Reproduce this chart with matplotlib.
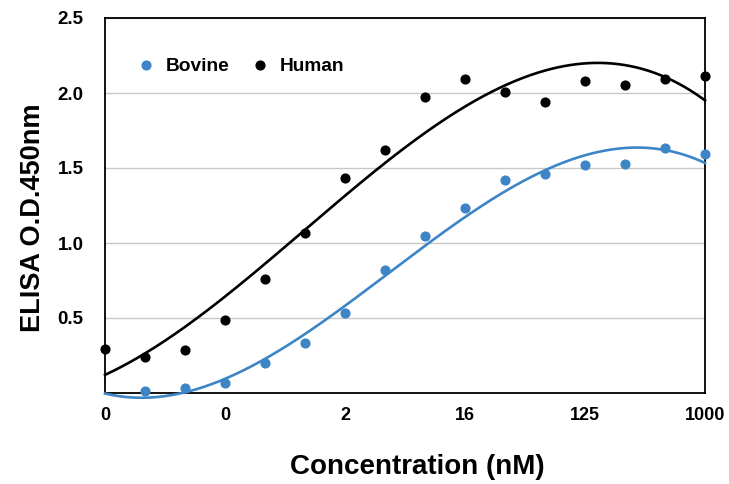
import numpy as np
import matplotlib
matplotlib.use("Agg")
import matplotlib.pyplot as plt

# ====== DATA ======
x_pos = np.arange(16)
tick_pos = [0, 3, 6, 9, 12, 15]
tick_labels = ["0", "0", "2", "16", "125", "1000"]

human = [0.295, 0.242, 0.289, 0.487, 0.762, 1.064, 1.436, 1.62,
         1.975, 2.091, 2.005, 1.942, 2.08, 2.055, 2.095, 2.113]
# first bovine reading sits below the axis minimum, so it is not shown
bovine = [-0.02, 0.015, 0.031, 0.065, 0.198, 0.331, 0.531, 0.82,
          1.047, 1.233, 1.418, 1.46, 1.52, 1.529, 1.633, 1.591]
# ===========================================

blue = "#3d85c6"
plt.rcParams['font.family'] = ['Liberation Sans', 'DejaVu Sans']
plt.rcParams['font.weight'] = 'bold'

fig = plt.figure(figsize=(7.29, 4.84), dpi=100)
ax = fig.add_axes([105/729, 1 - 393/484, 600/729, 375/484])

xs = np.linspace(0, 15, 300)
for vals, col, name in [(bovine, blue, "Bovine"), (human, "black", "Human")]:
    vals = np.array(vals)
    # cubic trendline, like the spreadsheet one
    coef = np.polyfit(x_pos, vals, 3)
    ax.plot(xs, np.polyval(coef, xs), color=col, lw=1.9, clip_on=False, zorder=3)
    shown = vals >= 0
    ax.plot(x_pos[shown], vals[shown], 'o', color=col, ms=6.3, label=name,
            zorder=4, clip_on=False)

ax.set_xlim(0, 15)
ax.set_ylim(0, 2.5)
ax.set_yticks([0.5, 1.0, 1.5, 2.0, 2.5])
ax.set_yticklabels(["0.5", "1.0", "1.5", "2.0", "2.5"])
ax.set_xticks(tick_pos)
ax.set_xticklabels(tick_labels)
ax.tick_params(length=0, labelsize=13)
ax.tick_params(axis='y', pad=15.5, labelsize=13.5)
ax.tick_params(axis='x', pad=10)
ax.yaxis.grid(True, color="#c8c8c8", lw=1)
ax.set_axisbelow(True)
for s in ax.spines.values():
    s.set_linewidth(1.3)

ax.set_xlabel("Concentration (nM)", fontsize=20, fontweight='bold', labelpad=22)
ax.set_ylabel("ELISA O.D.450nm", fontsize=19.5, fontweight='bold', labelpad=8)
ax.xaxis.label.set_x(0.52)
ax.yaxis.label.set_y(0.467)

ax.legend(loc='upper left', bbox_to_anchor=(0.037, 0.914), ncol=2, frameon=False,
          fontsize=13.8, handletextpad=0.42, columnspacing=0.98, handlelength=1.2,
          borderaxespad=0)

fig.savefig("out.png", dpi=100)
